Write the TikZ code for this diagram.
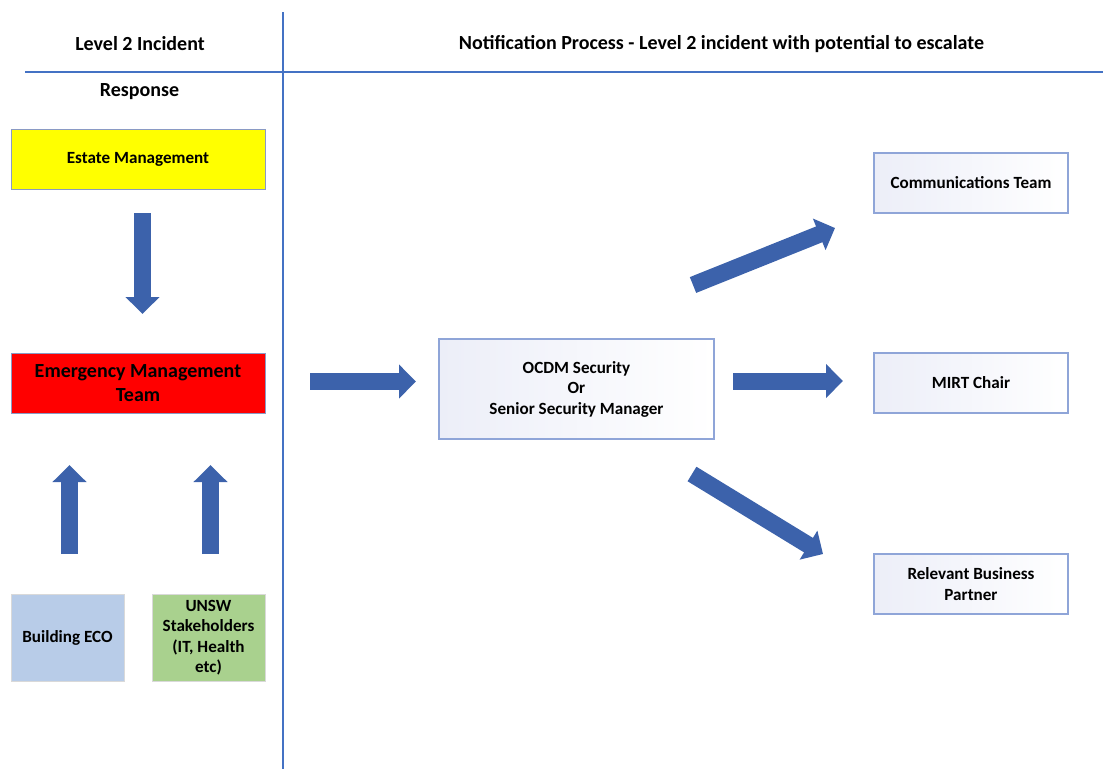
\documentclass[tikz,border=0pt]{standalone}
\usepackage{fontspec}
\setmainfont{Carlito}
\usetikzlibrary{arrows.meta}
\definecolor{lineblue}{HTML}{4472C4}
\definecolor{arrowblue}{HTML}{3C62AB}
\definecolor{boxedge}{HTML}{8FA5D8}
\definecolor{boxtint}{HTML}{ECEEF8}
\definecolor{sharpedge}{HTML}{8A9AC4}
\definecolor{ecoblue}{HTML}{B8CCE8}
\definecolor{unswgreen}{HTML}{A9D18E}
\definecolor{redbox}{HTML}{FF0000}
\definecolor{yellowbox}{HTML}{FFFF00}
\begin{document}
\begin{tikzpicture}[x=1pt,y=-1pt,
  divider/.style={draw=lineblue,line width=1.3pt},
  header/.style={font=\fontsize{20}{24}\selectfont\bfseries,inner sep=0pt},
  boxtext/.style={font=\fontsize{17.1}{20.5}\selectfont\bfseries,align=center,inner sep=0pt},
  solidbox/.style={boxtext,draw=sharpedge,line width=0.9pt},
  gradbox/.style={boxtext,draw=boxedge,line width=1.1pt,left color=boxtint,right color=white},
  lightbox/.style={boxtext,draw=white!85!black,line width=0.8pt},
  blockarrow/.style={draw=arrowblue,line width=17pt,-{Triangle[width=33pt,length=17pt]},arrowblue}
]
\useasboundingbox (0,0) rectangle (1103,769);
% dividers
\coordinate (vtop) at (283,12);
\coordinate (vbot) at (283,769);
\coordinate (hleft) at (25,72);
\coordinate (hright) at (1103,72);
\draw[divider] (vtop) -- (vbot);
\draw[divider] (hleft) -- (hright);
% headers
\node[header] (h1) at (140,44) {Level 2 Incident};
\node[header] (h2) at (721.5,44) {Notification Process - Level 2 incident with potential to escalate};
\node[header] (h3) at (139.5,92) {Response};
% boxes
\node[solidbox,fill=yellowbox,minimum width=254pt,minimum height=60pt] (estate) at (138,159) {Estate Management};
\node[solidbox,fill=redbox,minimum width=254pt,minimum height=60pt,font=\fontsize{20}{24}\selectfont\bfseries] (emt) at (138,383) {Emergency Management\\Team};
\node[lightbox,fill=ecoblue,minimum width=113pt,minimum height=87pt] (eco) at (67.5,637.5) {Building ECO};
\node[lightbox,fill=unswgreen,minimum width=113pt,minimum height=87pt] (unsw) at (208.5,637.5) {UNSW\\Stakeholders\\(IT, Health\\etc)};
\node[gradbox,minimum width=275pt,minimum height=100pt] (ocdm) at (576.5,389) {OCDM Security\\Or\\Senior Security Manager};
\node[gradbox,minimum width=194pt,minimum height=60pt] (comms) at (971,183) {Communications Team};
\node[gradbox,minimum width=194pt,minimum height=60pt] (mirt) at (971,383) {MIRT Chair};
\node[gradbox,minimum width=194pt,minimum height=60pt] (rbp) at (971,584) {Relevant Business\\Partner};
% arrow end points
\coordinate (a1s) at (142.5,213);
\coordinate (a1e) at (142.5,314);
\coordinate (a2s) at (310,381.5);
\coordinate (a2e) at (416,381.5);
\coordinate (a3s) at (733,381);
\coordinate (a3e) at (843,381);
\coordinate (a4s) at (69.5,554);
\coordinate (a4e) at (69.5,465);
\coordinate (a5s) at (210.5,554);
\coordinate (a5e) at (210.5,465);
\coordinate (a6s) at (693,285);
\coordinate (a6e) at (835,228);
\coordinate (a7s) at (692,474);
\coordinate (a7e) at (823,554);
\draw[blockarrow] (a1s) -- (a1e);
\draw[blockarrow] (a2s) -- (a2e);
\draw[blockarrow] (a3s) -- (a3e);
\draw[blockarrow] (a4s) -- (a4e);
\draw[blockarrow] (a5s) -- (a5e);
\draw[blockarrow] (a6s) -- (a6e);
\draw[blockarrow] (a7s) -- (a7e);
\end{tikzpicture}
\end{document}
